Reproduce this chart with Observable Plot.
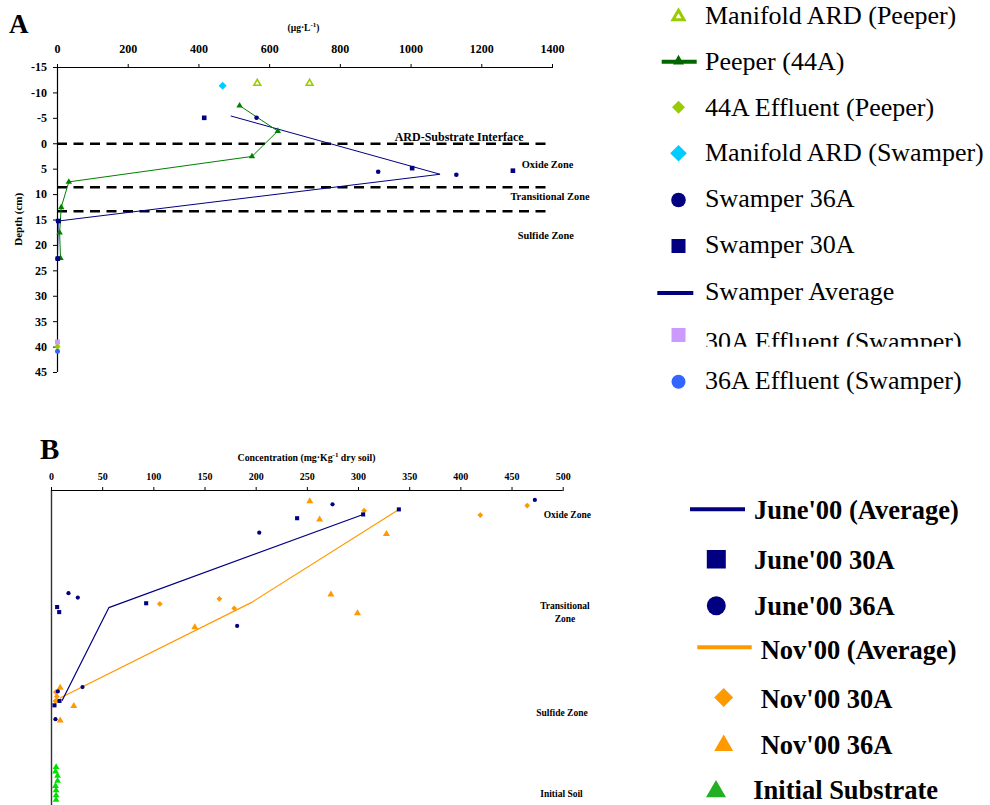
<!DOCTYPE html>
<html><head><meta charset="utf-8">
<script src="https://cdn.jsdelivr.net/npm/d3@7"></script>
<script src="https://cdn.jsdelivr.net/npm/@observablehq/plot@0.6"></script>
<style>
body{margin:0;background:#fff;}
#page{position:relative;width:990px;height:805px;overflow:hidden;font-family:"Liberation Serif",serif;}
#plotA,#plotB,#overlay{position:absolute;left:0;}
#plotA{top:0}
#plotB{top:440px}
#overlay{top:0;pointer-events:none}
</style></head><body>
<div id="page"><div id="plotA"></div><div id="plotB"></div><svg id="overlay" width="990" height="805"></svg></div>
<script>
// ---------- Panel A data (concentration µg/L vs depth cm) ----------
const xTicksA = [0, 200, 400, 600, 800, 1000, 1200, 1400];
const yTicksA = [-15, -10, -5, 0, 5, 10, 15, 20, 25, 30, 35, 40, 45];
const interfaceDepths = [0, 8.56, 13.27];

const manifoldPeeperConc = [565, 713];
const manifoldPeeperDepth = [-11.9, -11.9];
const manifoldSwamperConc = [467];
const manifoldSwamperDepth = [-11.4];

const peeperConc = [515, 623, 550, 32, 10.5, 6, 8.5];
const peeperDepth = [-7.5, -2.5, 2.5, 7.5, 12.5, 17.5, 22.5];

const swamper30AConc = [415, 1003, 1288, 3, 1];
const swamper30ADepth = [-5.1, 4.8, 5.3, 15.2, 22.6];
const swamper36AConc = [563, 907, 1128, 1, 0];
const swamper36ADepth = [-5.1, 5.5, 6.1, 15.2, 22.6];
const swamperAvgConc = [491, 1082, 2, 0];
const swamperAvgDepth = [-5.45, 6.0, 15.2, 22.6];

const effluent30AConc = [0], effluent30ADepth = [39.0];
const effluent44AConc = [0], effluent44ADepth = [39.9];
const effluent36AConc = [0], effluent36ADepth = [40.8];

const zoneTextA = ["Oxide Zone", "Transitional Zone", "Sulfide Zone"];
const zoneTextAX = [1386, 1393, 1381];
const zoneTextADepth = [4.04, 10.45, 18.15];
const interfaceText = ["ARD-Substrate Interface"];
const interfaceTextX = [1136];
const interfaceTextDepth = [-1.35];

// ---------- Panel B data (concentration mg/kg vs relative depth) ----------
const xTicksB = [0, 50, 100, 150, 200, 250, 300, 350, 400, 450, 500];
const june30AConc = [240, 304.5, 339.4, 92.5, 5.5, 7.5, 7.8, 2.9];
const june30ADepth = [4.4, 3.8, 3.0, 17.9, 18.5, 19.3, 33.4, 34.1];
const june36AConc = [274.6, 472.3, 203, 16.6, 25.7, 181.4, 30.3, 6.2, 3.9];
const june36ADepth = [2.2, 1.5, 6.7, 16.3, 17.0, 21.5, 31.2, 31.9, 36.3];
const nov30AConc = [305.5, 419, 464.8, 105.8, 164, 178.5, 4.2, 5.2, 3.9];
const nov30ADepth = [3.2, 3.9, 2.4, 18.0, 17.2, 18.7, 32.0, 32.7, 33.4];
const nov36AConc = [252.4, 262, 327.3, 273, 299, 140, 8.5, 21.8, 8.5];
const nov36ADepth = [1.7, 4.6, 6.9, 16.5, 19.5, 21.7, 31.3, 34.2, 36.5];
const juneAvgConc = [304.5, 56, 10.5];
const juneAvgDepth = [3.8, 18.6, 33.3];
const novAvgConc = [339.4, 195.1, 8.8];
const novAvgDepth = [3.0, 17.8, 32.9];
const initialConc = [4.5, 3.9, 5.9, 5.9, 3.9, 4.5, 4.5, 4.5];
const initialDepth = [43.9, 44.6, 45.3, 46.1, 46.9, 47.6, 48.4, 49.1];

const zoneTextB = ["Oxide Zone", "Transitional\nZone", "Sulfide Zone", "Initial Soil"];
const zoneTextBX = [504, 501.7, 498.8, 498.3];
const zoneTextBDepth = [3.7, 19.2, 35.2, 48.0];

// ---------- Legends ----------
const legendALabels = ["Manifold ARD (Peeper)", "Peeper (44A)", "44A Effluent (Peeper)", "Manifold ARD (Swamper)",
  "Swamper 36A", "Swamper 30A", "Swamper Average", "30A Effluent (Swamper)", "36A Effluent (Swamper)"];
const legendBLabels = ["June'00 (Average)", "June'00 30A", "June'00 36A", "Nov'00 (Average)", "Nov'00 30A", "Nov'00 36A", "Initial Substrate"];

const NAVY = "#000080", ORANGE = "#ff9900";
const font = "Liberation Serif";

const plotA = Plot.plot({
  width: 620, height: 380,
  marginLeft: 57, marginRight: 68, marginTop: 67, marginBottom: 8,
  x: {domain: [0, 1400], axis: null},
  y: {domain: [-15, 45], reverse: true, axis: null},
  style: {fontFamily: font, fontWeight: "bold", fontSize: "12px", background: "transparent", color: "#000", overflow: "visible"},
  marks: [
    Plot.ruleY(interfaceDepths, {stroke: "#000", strokeWidth: 2.6, strokeDasharray: "10,6.5"}),
    Plot.ruleY([-15], {stroke: "#000", strokeWidth: 1}),
    Plot.ruleX([0], {stroke: "#000", strokeWidth: 1.2}),
    Plot.axisX({anchor: "top", ticks: xTicksA, tickSize: 4, tickPadding: 11, tickFormat: d => String(d), label: null, fontSize: 12}),
    Plot.axisY({anchor: "left", ticks: yTicksA, tickSize: 4, tickPadding: 6.6, tickFormat: d => String(d), label: null, fontSize: 12}),
    Plot.text(interfaceText, {x: interfaceTextX, y: interfaceTextDepth, text: interfaceText, fontSize: 12, textAnchor: "middle"}),
    Plot.text(zoneTextA, {x: zoneTextAX, y: zoneTextADepth, text: zoneTextA, fontSize: 10.4, textAnchor: "middle"}),
    Plot.line(swamperAvgConc, {x: swamperAvgConc, y: swamperAvgDepth, stroke: NAVY, strokeWidth: 1}),
    Plot.line(peeperConc, {x: peeperConc, y: peeperDepth, stroke: "#008000", strokeWidth: 1}),
    Plot.dot(peeperConc, {x: peeperConc, y: peeperDepth, symbol: "triangle", r: 2.4, fill: "#008000"}),
    Plot.dot(swamper30AConc, {x: swamper30AConc, y: swamper30ADepth, symbol: "square", r: 2.6, fill: NAVY}),
    Plot.dot(swamper36AConc, {x: swamper36AConc, y: swamper36ADepth, symbol: "circle", r: 2.3, fill: NAVY}),
    Plot.dot(manifoldPeeperConc, {x: manifoldPeeperConc, y: manifoldPeeperDepth, symbol: "triangle2", r: 3.2, stroke: "#99cc00", strokeWidth: 1.6, fill: "#fff"}),
    Plot.dot(manifoldSwamperConc, {x: manifoldSwamperConc, y: manifoldSwamperDepth, symbol: "diamond2", r: 3.6, fill: "#00ccff"}),
    Plot.dot(effluent30AConc, {x: effluent30AConc, y: effluent30ADepth, symbol: "square", r: 2.8, fill: "#cc99ff"}),
    Plot.dot(effluent44AConc, {x: effluent44AConc, y: effluent44ADepth, symbol: "diamond2", r: 2.8, fill: "#99cc00"}),
    Plot.dot(effluent36AConc, {x: effluent36AConc, y: effluent36ADepth, symbol: "circle", r: 2.5, fill: "#3366ff"})
  ]
});
document.getElementById("plotA").append(plotA);

const plotB = Plot.plot({
  width: 630, height: 365,
  marginLeft: 51, marginRight: 67.3, marginTop: 50, marginBottom: 0,
  x: {domain: [0, 500], axis: null},
  y: {domain: [0, 50], reverse: true, axis: null},
  style: {fontFamily: font, fontWeight: "bold", fontSize: "10px", background: "transparent", color: "#000", overflow: "visible"},
  marks: [
    Plot.ruleY([0], {stroke: "#000", strokeWidth: 1}),
    Plot.ruleX([0], {stroke: "#333", strokeWidth: 1.4}),
    Plot.axisX({anchor: "top", ticks: xTicksB, tickSize: 4, tickPadding: 6.5, tickFormat: d => String(d), label: null, fontSize: 10}),
    Plot.text(zoneTextB, {x: zoneTextBX, y: zoneTextBDepth, text: zoneTextB, fontSize: 9.5, lineHeight: 1.34, textAnchor: "middle"}),
    Plot.line(novAvgConc, {x: novAvgConc, y: novAvgDepth, stroke: ORANGE, strokeWidth: 1.2}),
    Plot.line(juneAvgConc, {x: juneAvgConc, y: juneAvgDepth, stroke: NAVY, strokeWidth: 1.2}),
    Plot.dot(nov30AConc, {x: nov30AConc, y: nov30ADepth, symbol: "diamond2", r: 2.6, fill: ORANGE}),
    Plot.dot(nov36AConc, {x: nov36AConc, y: nov36ADepth, symbol: "triangle", r: 2.6, fill: ORANGE}),
    Plot.dot(june30AConc, {x: june30AConc, y: june30ADepth, symbol: "square", r: 2.3, fill: NAVY}),
    Plot.dot(june36AConc, {x: june36AConc, y: june36ADepth, symbol: "circle", r: 2.1, fill: NAVY}),
    Plot.dot(initialConc, {x: initialConc, y: initialDepth, symbol: "triangle", r: 2.5, fill: "#00e000"})
  ]
});
document.getElementById("plotB").append(plotB);

// ---------- Overlay: titles, axis labels, legends ----------
const svg = d3.select("#overlay").attr("font-family", font);
svg.append("text").attr("x", 9).attr("y", 33).attr("font-size", 27).attr("font-weight", "bold").text("A");
svg.append("text").attr("x", 40).attr("y", 459.3).attr("font-size", 29).attr("font-weight", "bold").text("B");

const la = svg.append("text").attr("x", 303.5).attr("y", 31).attr("font-size", 9.5).attr("font-weight", "bold").attr("text-anchor", "middle");
la.append("tspan").text("(µg·L");
la.append("tspan").attr("dy", -4).attr("font-size", 7).text("-1");
la.append("tspan").attr("dy", 4).text(")");

svg.append("text").attr("transform", "translate(18,219.3) rotate(-90)").attr("dy", "0.35em")
  .attr("font-size", 11).attr("font-weight", "bold").attr("text-anchor", "middle").text("Depth (cm)");

const lb = svg.append("text").attr("x", 306.5).attr("y", 460.5).attr("font-size", 9.8).attr("font-weight", "bold").attr("text-anchor", "middle");
lb.append("tspan").text("Concentration (mg·Kg");
lb.append("tspan").attr("dy", -4).attr("font-size", 7).text("-1");
lb.append("tspan").attr("dy", 4).text(" dry soil)");

function diamondPath(cx, cy, h) { return `M${cx},${cy - h}L${cx + h},${cy}L${cx},${cy + h}L${cx - h},${cy}Z`; }
function triPath(cx, cy, a) { const h = a * Math.sqrt(3) / 2; return `M${cx},${cy - h * 2 / 3}L${cx + a / 2},${cy + h / 3}L${cx - a / 2},${cy + h / 3}Z`; }

// Legend A
const legA = svg.append("g");
const baseA = [24, 70, 115.5, 161, 207.3, 253.3, 300, 349.8, 389.3];
const markA = [16.5, 61.7, 107.3, 153.2, 200, 246, 293, 335, 381.7];
svg.append("defs").append("clipPath").attr("id", "clipRow").append("rect").attr("x", 690).attr("y", 300).attr("width", 300).attr("height", 46.7);
legendALabels.forEach((t, i) => {
  const tx = legA.append("text").attr("x", 705).attr("y", baseA[i]).attr("font-size", 26).text(t);
  if (i === 7) tx.attr("clip-path", "url(#clipRow)");
});
const mx = 678.5;
legA.append("path").attr("d", triPath(mx, markA[0], 11)).attr("fill", "#fff").attr("stroke", "#99cc00").attr("stroke-width", 3).attr("stroke-linejoin", "miter");
legA.append("line").attr("x1", 661.7).attr("x2", 696.7).attr("y1", markA[1]).attr("y2", markA[1]).attr("stroke", "#006600").attr("stroke-width", 4);
legA.append("path").attr("d", triPath(mx, markA[1] - 0.5, 11)).attr("fill", "#006600");
legA.append("path").attr("d", diamondPath(mx, markA[2], 6.5)).attr("fill", "#99cc00");
legA.append("path").attr("d", diamondPath(mx, markA[3], 8.3)).attr("fill", "#00ccff");
legA.append("circle").attr("cx", mx).attr("cy", markA[4]).attr("r", 7.3).attr("fill", NAVY);
legA.append("rect").attr("x", mx - 7).attr("y", markA[5] - 7).attr("width", 14).attr("height", 14).attr("fill", NAVY);
legA.append("line").attr("x1", 657.3).attr("x2", 693.3).attr("y1", markA[6]).attr("y2", markA[6]).attr("stroke", NAVY).attr("stroke-width", 4);
legA.append("rect").attr("x", mx - 7).attr("y", markA[7] - 7).attr("width", 14).attr("height", 14).attr("fill", "#cc99ff");
legA.append("circle").attr("cx", mx).attr("cy", markA[8]).attr("r", 7).attr("fill", "#3366ff");

// Legend B
const legB = svg.append("g").attr("font-weight", "bold");
const baseB = [519.3, 569.3, 615, 659, 707.7, 754.3, 799];
const leftB = [754, 754, 754, 760.7, 760.7, 760.7, 753.3];
legendBLabels.forEach((t, i) => {
  legB.append("text").attr("x", leftB[i]).attr("y", baseB[i]).attr("font-size", 26.5).text(t);
});
legB.append("line").attr("x1", 690).attr("x2", 745).attr("y1", 509.3).attr("y2", 509.3).attr("stroke", NAVY).attr("stroke-width", 4);
legB.append("rect").attr("x", 706.8).attr("y", 550).attr("width", 19).attr("height", 18.5).attr("fill", NAVY);
legB.append("circle").attr("cx", 716.3).attr("cy", 605.8).attr("r", 9.5).attr("fill", NAVY);
legB.append("line").attr("x1", 697.3).attr("x2", 751.7).attr("y1", 647.3).attr("y2", 647.3).attr("stroke", ORANGE).attr("stroke-width", 4);
legB.append("path").attr("d", diamondPath(723.7, 697.5, 9.5)).attr("fill", ORANGE);
legB.append("path").attr("d", triPath(723.7, 745.5, 19)).attr("fill", ORANGE);
legB.append("path").attr("d", triPath(716, 791.5, 20)).attr("fill", "#22b022");
</script>
</body></html>
